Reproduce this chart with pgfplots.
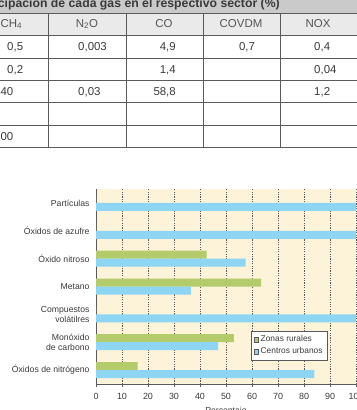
\documentclass[border=0pt]{standalone}
\usepackage{pgfplots}
\usepackage{pgfplotstable}
\pgfplotsset{compat=1.18}
\usepackage{fontspec}
\setmainfont{Liberation Sans}

\definecolor{beige}{HTML}{FDF3D8}
\definecolor{rural}{HTML}{B3CB6B}
\definecolor{urbano}{HTML}{8DD5F2}
\definecolor{titlegray}{HTML}{CACACA}
\definecolor{headgray}{HTML}{EAEAEA}
\definecolor{rulegray}{HTML}{5A5A5A}
\definecolor{txt}{HTML}{3A3A3A}
\definecolor{headtxt}{HTML}{555555}

% Share of each sector (%), categories from bottom (0) to top (6)
\pgfplotstableread{
idx rural urbano
0 16 84
1 53 47
2 0 100
3 63.5 36.5
4 42.5 57.5
5 0 100
6 0 100
}\emisiones

\newcommand{\tabfont}{\fontsize{11.5}{13}\selectfont}

\begin{document}
\begin{tikzpicture}
\useasboundingbox (0,0) rectangle (357bp,-410bp);
\clip (0,0) rectangle (357bp,-410bp);

% ---- table of gas participation ----
\begin{scope}[x=1bp,y=-1bp]
  \fill[titlegray] (0,-5) rectangle (357,13);
  \fill[headgray] (0,13) rectangle (357,35);
  \node[anchor=base east, inner sep=0pt, font=\bfseries\fontsize{12.3}{14}\selectfont, text=txt]
    at (280,7) {Participación de cada gas en el respectivo sector (\%)};
  % rules
  \foreach \yy in {13,35,58,80,102,125,147}
    \draw[rulegray, line width=0.8pt] (0,\yy) -- (357,\yy);
  \foreach \xx in {48,126,203,280}
    \draw[rulegray, line width=0.8pt] (\xx,13) -- (\xx,147);
  % header
  \begin{scope}[every node/.style={inner sep=0pt, font=\tabfont, text=headtxt}]
    \node[anchor=west] at (0.5,24) {CH\textsubscript{4}};
    \node at (87,24) {N\textsubscript{2}O};
    \node at (164,24) {CO};
    \node at (241,24) {COVDM};
    \node at (318,24) {NOX};
  \end{scope}
  % values, aligned on the decimal comma
  \begin{scope}[every node/.style={inner sep=0pt, font=\tabfont, text=txt, anchor=base}]
    \node[anchor=base west] at (7,50.5) {0,5};
    \node[anchor=base west] at (7,73) {0,2};
    \node[anchor=base east] at (13.5,95) {40};
    \node[anchor=base east] at (13.5,140) {100};
    \node[anchor=base west] at (78,50.5) {0,003};
    \node[anchor=base west] at (78,95) {0,03};
    \node[anchor=base east] at (176,50.5) {4,9};
    \node[anchor=base east] at (176,73) {1,4};
    \node[anchor=base east] at (176,95) {58,8};
    \node at (247,50.5) {0,7};
    \node[anchor=base west] at (314,50.5) {0,4};
    \node[anchor=base west] at (314,73) {0,04};
    \node[anchor=base west] at (314,95) {1,2};
  \end{scope}
\end{scope}

% ---- bar chart ----
\begin{axis}[
  at={(96bp,-384bp)}, anchor=south west,
  scale only axis, width=260bp, height=195bp,
  xmin=0, xmax=100, ymin=-0.5, ymax=6.5,
  xbar, bar width=8bp,
  axis background/.style={fill=beige},
  axis x line*=bottom, axis y line*=left,
  axis line style={rulegray, line width=0.8pt, -},
  xtick={0,10,...,100},
  tick align=outside, major tick length=3bp,
  xtick style={rulegray, line width=0.6pt},
  xmajorgrids,
  grid style={dash pattern=on 1.2pt off 1.2pt, gray!70!black, line width=0.6pt},
  ytick={0,...,6},
  yticklabels={Óxidos de nitrógeno, {Monóxido\\de carbono}, {Compuestos\\volátilres}, Metano, Óxido nitroso, Óxidos de azufre, Partículas},
  ytick style={draw=none},
  y tick label style={align=right, font=\fontsize{8.7}{10.5}\selectfont, text=txt},
  x tick label style={font=\fontsize{9}{10}\selectfont, text=txt, yshift=-2.5bp},
  /pgf/number format/assume math mode=true,
  xlabel={Porcentaje},
  xlabel style={font=\fontsize{8.7}{10}\selectfont, text=txt, yshift=-1.2bp},
  legend style={at={(0.595,0.272)}, anchor=north west, draw=rulegray, fill=white,
    font=\fontsize{8.4}{10}\selectfont, text=txt, inner sep=2.5bp, row sep=0.5bp,
    line width=0.8pt},
  legend cell align=left,
  legend image code/.code={\draw[#1, draw=rulegray, line width=0.5pt] (1bp,-2.3bp) rectangle (5.6bp,2.3bp);},
]
\addplot[fill=rural, draw=none, bar shift=4bp] table[x=rural, y=idx]{\emisiones};
\addplot[fill=urbano, draw=none, bar shift=-4bp] table[x=urbano, y=idx]{\emisiones};
\legend{Zonas rurales, Centros urbanos}
\end{axis}
\end{tikzpicture}
\end{document}
